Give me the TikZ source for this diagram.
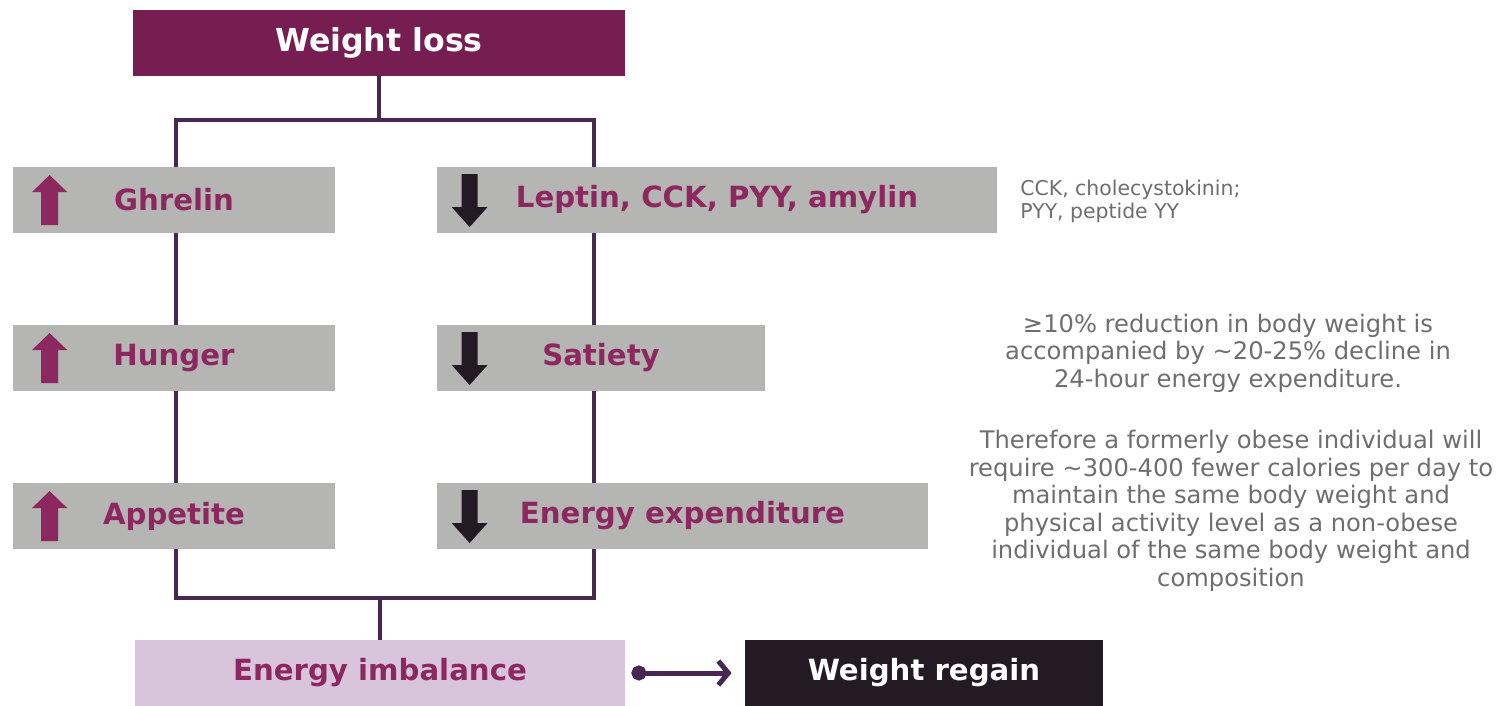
\documentclass[tikz,border=0pt]{standalone}
\usepackage{fontspec}
\setmainfont{DejaVu Sans}
\usetikzlibrary{arrows.meta,calc}

\definecolor{plumdark}{RGB}{118,30,82}
\definecolor{plumtext}{RGB}{140,40,95}
\definecolor{boxgray}{RGB}{181,181,179}
\definecolor{lilac}{RGB}{216,196,219}
\definecolor{regaindark}{RGB}{36,26,36}
\definecolor{linkcol}{RGB}{72,40,82}
\definecolor{notegray}{RGB}{110,110,110}

\tikzset{
  factor/.style={fill=boxgray, minimum height=33pt, inner sep=0pt,
    text=plumtext, font=\fontsize{14.6}{17}\selectfont\bfseries},
  link/.style={draw=linkcol, line width=2pt},
  note/.style={text=notegray, inner sep=0pt},
  uparr/.pic={\fill[plumtext] (-8.5,25) -- (8.5,25) -- (8.5,-8) -- (17.5,-8)
    -- (0,-25) -- (-17.5,-8) -- (-8.5,-8) -- cycle;},
  downarr/.pic={\fill[regaindark] (-8,-26) -- (8,-26) -- (8,7) -- (18,7)
    -- (0,27) -- (-18,7) -- (-8,7) -- cycle;}
}

\begin{document}
\begin{tikzpicture}[x=0.5pt, y=-0.5pt]
    \useasboundingbox (0,0) rectangle (1504,706);
    \coordinate (rbus) at (594,120);
    \coordinate (bot) at (594,598);

    \node[fill=plumdark, text=white, minimum width=246pt, minimum height=33pt,
      font=\fontsize{15.8}{18}\selectfont\bfseries] at (379,43) (loss) {Weight loss};

    % connectors first, boxes drawn over them
    \draw[link] (loss.south) -- (loss.south |- rbus);
    \draw[link] (176,167) |- (rbus) -- (594,167);
    \draw[link] (176,233) -- (176,325);
    \draw[link] (594,233) -- (594,325);
    \draw[link] (176,391) -- (176,483);
    \draw[link] (594,391) -- (594,483);
    \draw[link] (176,549) |- (bot) -- (594,549);
    \draw[link] (380,598) -- (380,640);

    \node[factor, minimum width=161pt] at (174,200) (ghrelin) {Ghrelin};
    \node[factor, minimum width=280pt] at (717,200) (leptin) {Leptin, CCK, PYY, amylin};
    \node[factor, minimum width=161pt] at (174,358) (hunger) {Hunger};
    \node[factor, minimum width=164pt] at (601,358) (satiety) {Satiety};
    \node[factor, minimum width=161pt] at (174,516) (appetite) {Appetite};
    \node[factor, minimum width=245.5pt] at (682.5,516) (expend) {Energy expenditure};

    \pic at ($(ghrelin.west)+(37,0)$) {uparr};
    \pic at ($(hunger.west)+(37,0)$) {uparr};
    \pic at ($(appetite.west)+(37,0)$) {uparr};
    \pic at ($(leptin.west)+(33,0)$) {downarr};
    \pic at ($(satiety.west)+(33,0)$) {downarr};
    \pic at ($(expend.west)+(33,0)$) {downarr};

    \node[factor, fill=lilac, minimum width=245pt] at (380,673) (imbal) {Energy imbalance};
    \node[factor, fill=regaindark, text=white, minimum width=179pt] at (924,673) (regain) {Weight regain};

    \draw[draw=linkcol, line width=2.5pt, shorten <=3pt, shorten >=6.5pt,
      {Circle[length=7.5pt]}-{Straight Barb[length=5pt,width=12pt]}]
      (imbal.east) -- (regain.west);

    \node[note, anchor=west, align=left, font=\fontsize{10.2}{11.5}\selectfont]
      at (1020,201) (abbrev) {CCK, cholecystokinin;\\PYY, peptide YY};
    \node[note, align=center, font=\fontsize{12.1}{13.75}\selectfont]
      at (1228,353) (decline) {≥10\% reduction in body weight is\\accompanied by \textasciitilde20-25\% decline in\\24-hour energy expenditure.};
    \node[note, align=center, font=\fontsize{12.1}{13.75}\selectfont]
      at (1231,511) (calories) {Therefore a formerly obese individual will\\require \textasciitilde300-400 fewer calories per day to\\maintain the same body weight and\\physical activity level as a non-obese\\individual of the same body weight and\\composition};
\end{tikzpicture}
\end{document}
